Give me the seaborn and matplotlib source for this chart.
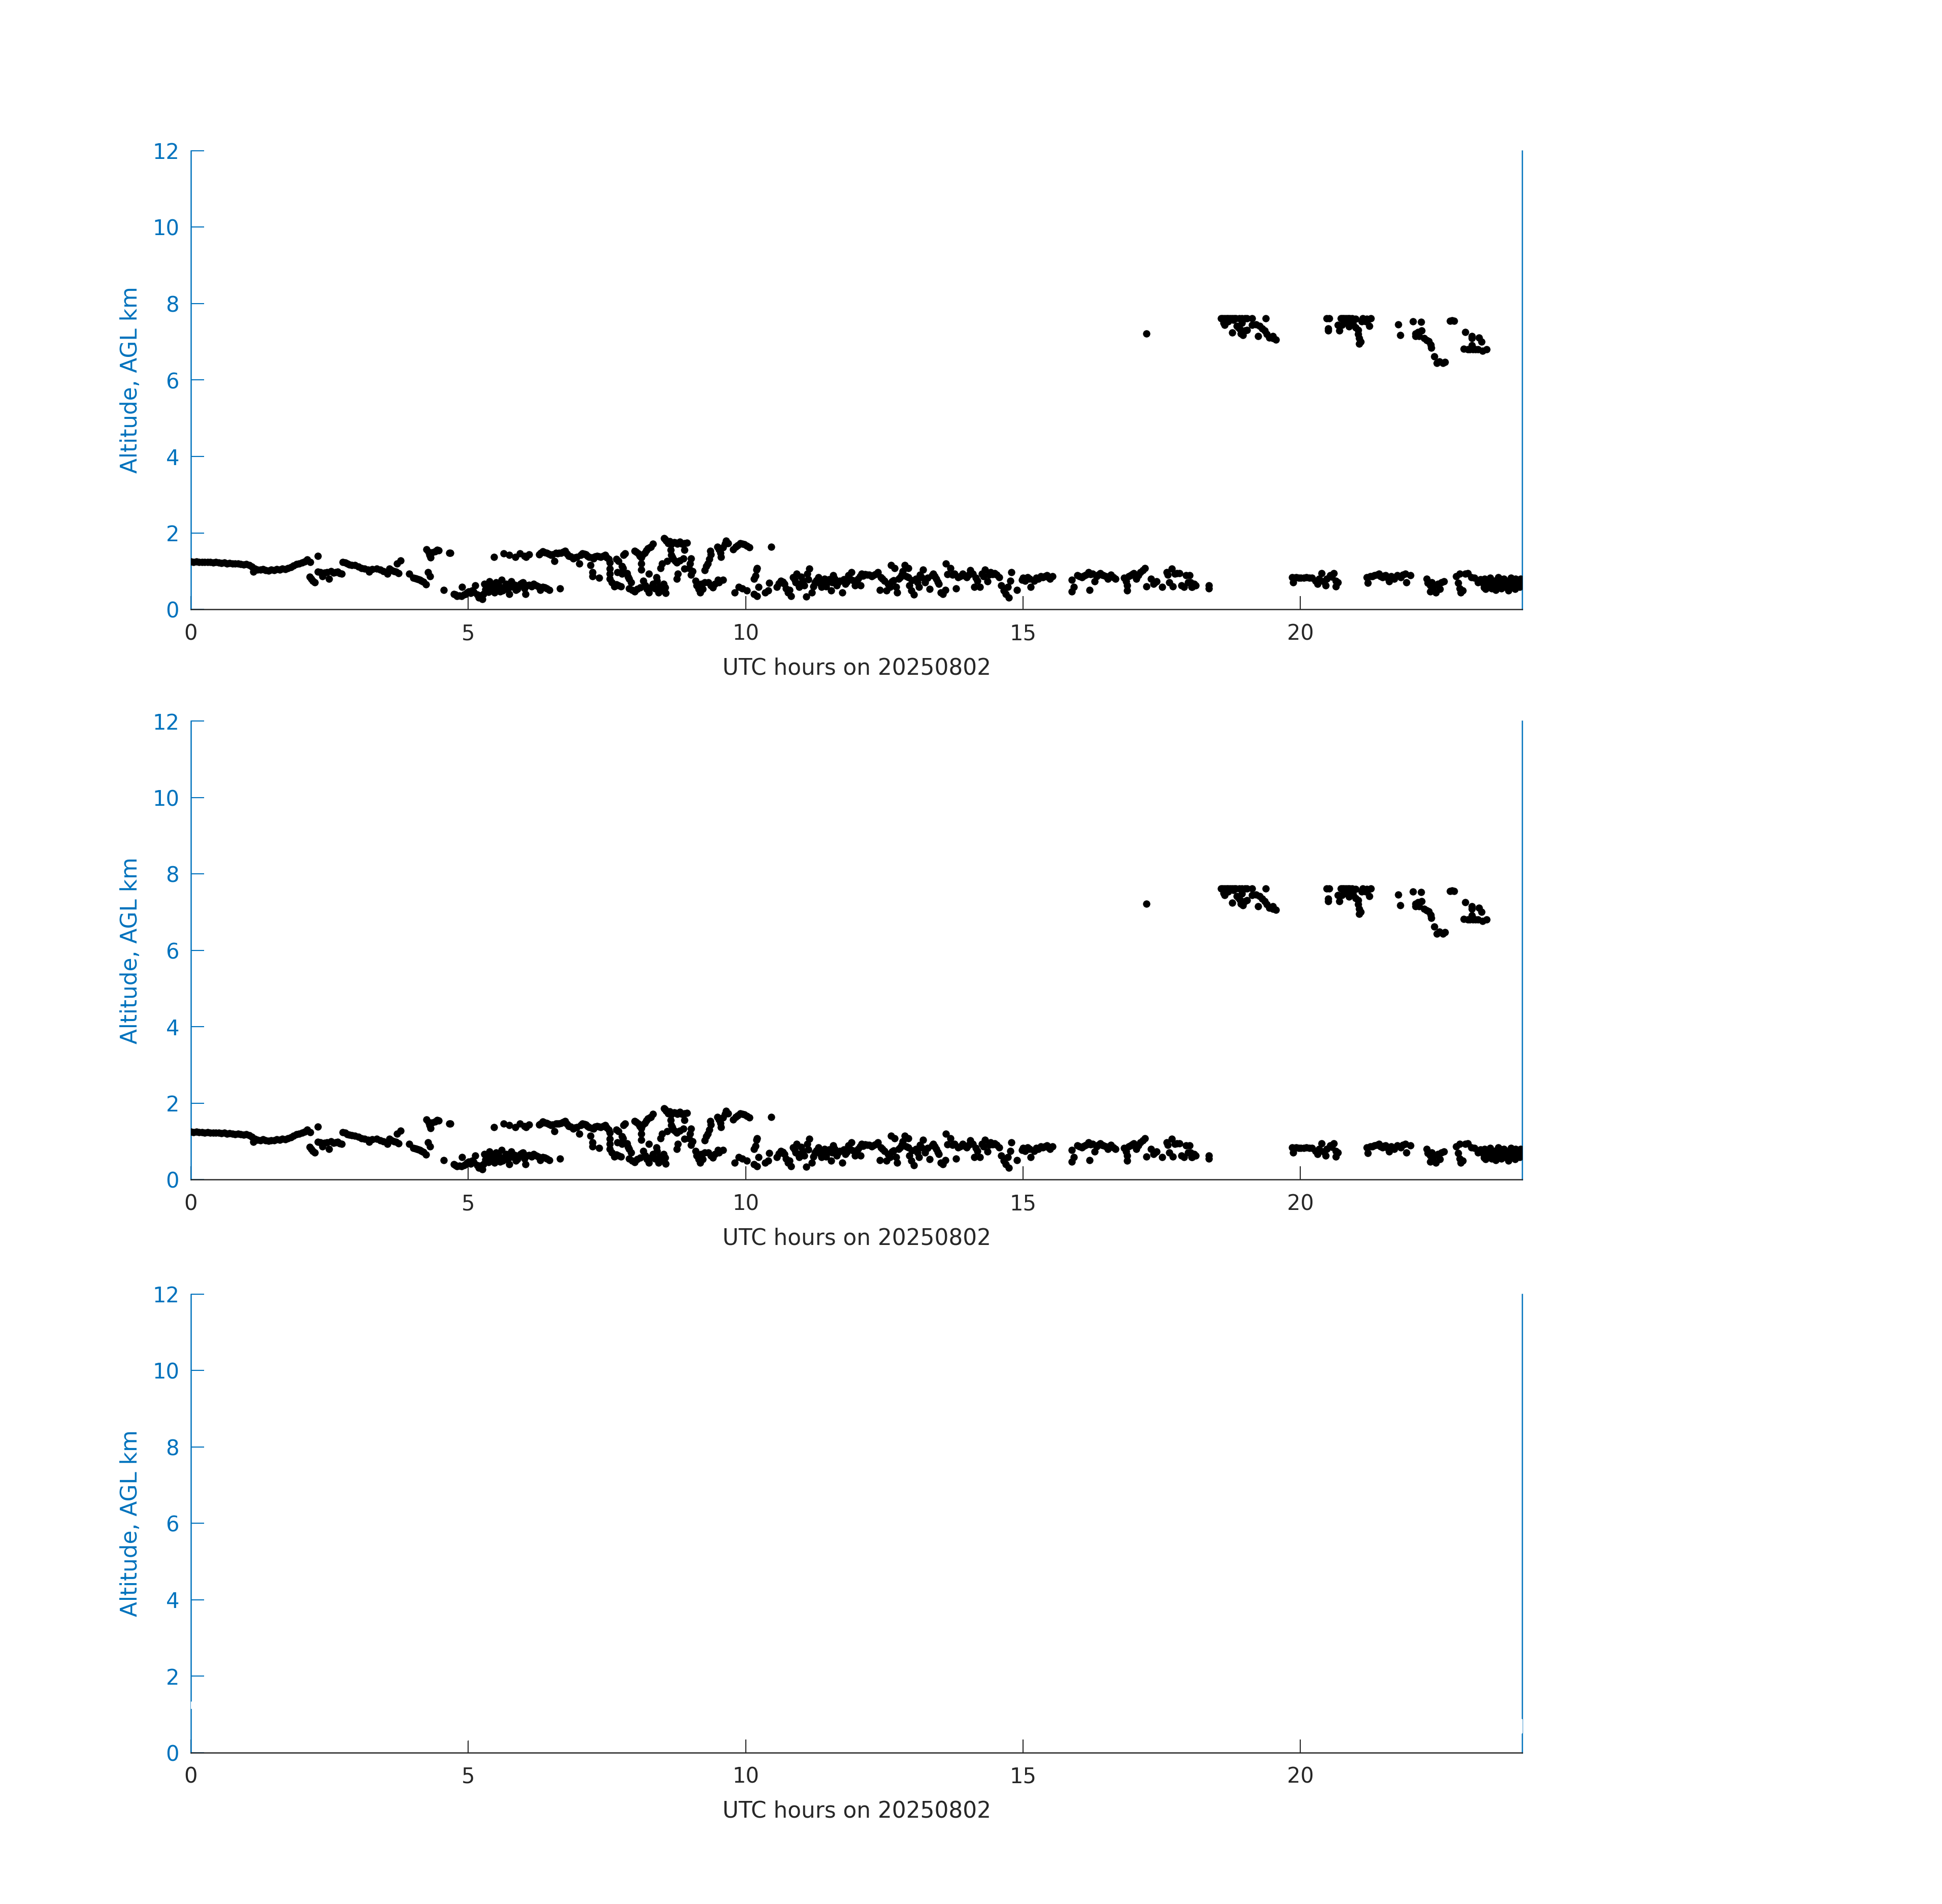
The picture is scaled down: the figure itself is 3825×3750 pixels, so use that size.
import matplotlib.pyplot as plt
import pandas as pd
import seaborn as sns

# Cloud-base heights (UTC hour, km AGL)
base_layer_early = [
    (0.00, 1.25), (0.05, 1.24), (0.10, 1.25), (0.15, 1.24), (0.20, 1.24), (0.25, 1.23),
    (0.30, 1.24), (0.35, 1.23), (0.40, 1.22), (0.45, 1.23), (0.50, 1.22), (0.55, 1.21),
    (0.60, 1.22), (0.65, 1.20), (0.70, 1.21), (0.75, 1.20), (0.80, 1.19), (0.85, 1.20),
    (0.90, 1.18), (0.95, 1.17), (1.00, 1.18), (1.05, 1.16), (1.10, 1.12), (1.13, 0.98),
    (1.15, 1.06), (1.20, 1.04), (1.25, 1.03), (1.30, 1.05), (1.35, 1.02), (1.40, 1.01),
    (1.45, 1.03), (1.50, 1.02), (1.55, 1.05), (1.60, 1.04), (1.65, 1.06), (1.70, 1.05),
    (1.75, 1.08), (1.80, 1.10), (1.85, 1.14), (1.90, 1.18), (1.95, 1.20), (2.00, 1.22),
    (2.05, 1.25), (2.10, 1.30), (2.15, 1.24), (2.29, 1.39),
]

layer_2h_to_5h = [
    (2.14, 0.85), (2.17, 0.80), (2.195, 0.75), (2.234, 0.71), (2.29, 0.99), (2.33, 0.97),
    (2.37, 0.86), (2.41, 0.96), (2.45, 0.97), (2.49, 0.80), (2.53, 1.00), (2.57, 0.96),
    (2.61, 0.97), (2.645, 0.98), (2.68, 0.95), (2.72, 0.93),
    (2.74, 1.24), (2.78, 1.22), (2.82, 1.19), (2.86, 1.17), (2.90, 1.16), (2.96, 1.15),
    (3.02, 1.12), (3.075, 1.08), (3.13, 1.06), (3.19, 1.04), (3.21, 0.99), (3.27, 1.05),
    (3.35, 1.06), (3.41, 1.03), (3.47, 1.00), (3.545, 0.93), (3.58, 1.06), (3.62, 1.02),
    (3.66, 1.00), (3.70, 0.98), (3.74, 0.95), (3.72, 1.20), (3.78, 1.28),
    (3.935, 0.93), (4.01, 0.82), (4.05, 0.81), (4.07, 0.80), (4.10, 0.79), (4.13, 0.77),
    (4.16, 0.75), (4.19, 0.72), (4.24, 0.65), (4.27, 0.97), (4.31, 0.86),
    (4.25, 1.57), (4.28, 1.50), (4.30, 1.42), (4.32, 1.35), (4.35, 1.49), (4.40, 1.52),
    (4.44, 1.55), (4.47, 1.54), (4.66, 1.47), (4.68, 1.47), (4.56, 0.51),
]

layer_5h_to_7h = [
    (4.74, 0.40), (4.77, 0.38), (4.80, 0.35), (4.84, 0.36), (4.875, 0.35), (4.89, 0.58),
    (4.92, 0.38), (4.95, 0.40), (4.98, 0.44), (5.01, 0.47), (5.04, 0.42), (5.07, 0.49),
    (5.10, 0.45), (5.13, 0.62), (5.16, 0.38), (5.19, 0.31), (5.22, 0.36), (5.25, 0.27),
    (5.27, 0.40), (5.29, 0.66), (5.31, 0.52), (5.34, 0.58), (5.36, 0.45), (5.38, 0.73),
    (5.40, 0.62), (5.42, 0.49), (5.45, 0.56), (5.47, 0.44), (5.50, 0.71), (5.52, 0.53),
    (5.55, 0.63), (5.57, 0.47), (5.60, 0.77), (5.62, 0.49), (5.65, 0.58), (5.68, 0.66),
    (5.71, 0.52), (5.74, 0.40), (5.76, 0.60), (5.78, 0.73), (5.81, 0.58), (5.84, 0.64),
    (5.86, 0.50), (5.89, 0.53), (5.92, 0.62), (5.94, 0.66), (5.97, 0.69), (5.99, 0.71),
    (6.01, 0.55), (6.03, 0.40), (6.06, 0.62), (6.10, 0.64), (6.14, 0.60), (6.18, 0.66),
    (6.22, 0.63), (6.26, 0.60), (6.30, 0.51), (6.34, 0.58), (6.38, 0.57), (6.42, 0.55),
    (6.46, 0.51), (6.65, 0.55),
    (5.46, 1.37), (5.64, 1.46), (5.74, 1.42), (5.85, 1.37), (5.93, 1.46), (6.01, 1.40),
    (6.04, 1.37), (6.10, 1.44),
]

layer_6h_to_10h = [
    (6.28, 1.44), (6.31, 1.47), (6.34, 1.51), (6.38, 1.49), (6.42, 1.48), (6.45, 1.45),
    (6.49, 1.42), (6.55, 1.26), (6.52, 1.44), (6.58, 1.47), (6.61, 1.46), (6.64, 1.47),
    (6.67, 1.48), (6.71, 1.50), (6.75, 1.53), (6.78, 1.45), (6.81, 1.40), (6.85, 1.38),
    (6.89, 1.33), (6.92, 1.36), (6.96, 1.37), (7.00, 1.20), (7.03, 1.42), (7.06, 1.46),
    (7.09, 1.45), (7.12, 1.44), (7.15, 1.40), (7.18, 1.37), (7.20, 1.15), (7.23, 1.35),
    (7.26, 1.33), (7.29, 1.38), (7.32, 1.40), (7.36, 1.38), (7.39, 1.37), (7.43, 1.40),
    (7.47, 1.42), (7.50, 1.36), (7.53, 1.31), (7.55, 1.22),
    (7.24, 0.97), (7.24, 0.86), (7.36, 0.82), (7.55, 1.06), (7.55, 0.93), (7.55, 0.80),
    (7.59, 0.71), (7.63, 0.60), (7.67, 0.65), (7.71, 0.62), (7.75, 0.60), (7.69, 0.97),
    (7.77, 0.93), (7.80, 0.97), (7.86, 0.95), (7.88, 0.85), (7.90, 0.80), (7.94, 0.71),
    (7.67, 1.31), (7.71, 1.26), (7.77, 1.13), (7.79, 1.08), (7.80, 1.42), (7.83, 1.46),
    (7.90, 0.55), (7.95, 0.50), (8.00, 0.46), (8.05, 0.53), (8.10, 0.57),
    (8.00, 1.53), (8.03, 1.50), (8.06, 1.46), (8.09, 1.40), (8.12, 1.35), (8.12, 1.20),
    (8.12, 1.04), (8.15, 1.44), (8.18, 1.48), (8.21, 1.54), (8.24, 1.59), (8.27, 1.62),
    (8.29, 1.64), (8.33, 1.71), (8.26, 0.93),
    (8.16, 0.75), (8.19, 0.62), (8.22, 0.53), (8.26, 0.44), (8.30, 0.58), (8.33, 0.66),
    (8.37, 0.55), (8.40, 0.75), (8.43, 0.44), (8.45, 0.60), (8.49, 0.49), (8.52, 0.66),
    (8.55, 0.57), (8.56, 0.42), (8.39, 0.84),
    (8.53, 1.86), (8.55, 1.83), (8.57, 1.80), (8.60, 1.73), (8.63, 1.78), (8.66, 1.70),
    (8.71, 1.75), (8.74, 1.74), (8.77, 1.72), (8.81, 1.77), (8.85, 1.72), (8.90, 1.73),
    (8.94, 1.74),
    (8.65, 1.55), (8.66, 1.42), (8.68, 1.37), (8.70, 1.31), (8.73, 1.26), (8.76, 1.22),
    (8.81, 1.28), (8.90, 1.55), (8.88, 1.33), (9.02, 1.33), (9.00, 1.20), (8.98, 1.08),
    (8.90, 1.06), (9.04, 1.00), (9.02, 0.91),
    (8.49, 1.20), (8.47, 1.08), (8.59, 1.26), (8.78, 0.93), (8.76, 0.80),
    (9.10, 0.75), (9.12, 0.62), (9.15, 0.53), (9.18, 0.44), (9.20, 0.66), (9.23, 0.53),
    (9.26, 0.71),
    (9.26, 1.02), (9.29, 1.13), (9.32, 1.20), (9.35, 1.31), (9.37, 1.44), (9.36, 1.53),
    (9.33, 0.71), (9.37, 0.62), (9.41, 0.57), (9.45, 0.66), (9.50, 0.77), (9.52, 0.71),
    (9.59, 0.77),
    (9.49, 1.64), (9.52, 1.57), (9.55, 1.48), (9.56, 1.37), (9.59, 1.62), (9.63, 1.71),
    (9.65, 1.80), (9.68, 1.73),
    (9.78, 1.57), (9.82, 1.64), (9.86, 1.68), (9.90, 1.73), (9.94, 1.71), (9.98, 1.70),
    (10.02, 1.66), (10.07, 1.62), (10.46, 1.64),
    (9.80, 0.44), (9.88, 0.58), (9.94, 0.55), (10.02, 0.49),
    (10.15, 0.80), (10.18, 0.88), (10.20, 1.04), (10.21, 1.08), (10.15, 0.40),
    (10.21, 0.35), (10.23, 0.58), (10.35, 0.44), (10.41, 0.49), (10.43, 0.69),
]

layer_10h_to_19h = [
    (10.56, 0.58), (10.64, 0.75), (10.70, 0.66), (10.76, 0.44), (10.82, 0.35), (10.86, 0.84),
    (10.90, 0.71), (10.92, 0.93), (10.97, 0.58), (11.03, 0.75), (11.09, 0.33), (11.11, 0.93),
    (11.15, 1.06), (11.19, 0.44), (11.25, 0.71), (11.31, 0.84), (11.37, 0.58), (11.42, 0.80),
    (11.48, 0.71), (11.54, 0.49), (11.58, 0.89), (11.64, 0.62), (11.70, 0.75), (11.74, 0.44),
    (11.80, 0.66), (11.85, 0.89), (11.91, 0.97), (11.97, 0.62), (12.03, 0.80), (12.09, 0.93),
    (10.60, 0.68), (10.67, 0.72), (10.73, 0.55), (10.79, 0.50), (10.88, 0.78), (10.95, 0.66),
    (11.00, 0.85), (11.06, 0.62), (11.13, 0.78), (11.22, 0.60), (11.28, 0.76), (11.34, 0.68),
    (11.40, 0.72), (11.45, 0.60), (11.51, 0.78), (11.56, 0.70), (11.61, 0.80), (11.67, 0.70),
    (11.77, 0.78), (11.83, 0.72), (11.88, 0.80), (11.94, 0.76), (12.00, 0.70), (12.06, 0.86),
    (12.07, 0.62), (12.23, 0.91), (12.30, 0.89), (12.38, 0.97), (12.42, 0.51), (12.44, 0.84),
    (12.50, 0.75), (12.54, 0.49), (12.60, 0.58), (12.62, 1.15), (12.64, 0.73), (12.69, 1.08),
    (12.71, 0.58), (12.73, 0.44), (12.79, 0.84), (12.83, 1.00), (12.87, 1.15), (12.93, 1.08),
    (12.93, 0.84), (12.95, 0.62), (12.99, 0.49), (13.03, 0.38), (13.07, 0.80), (13.13, 0.58),
    (13.17, 0.84), (13.20, 1.04), (13.24, 0.71), (13.32, 0.53), (13.36, 0.89), (13.38, 0.93),
    (13.44, 0.80), (13.48, 0.66), (13.52, 0.44), (13.56, 0.40), (13.60, 0.51), (13.61, 1.20),
    (13.69, 1.08), (13.77, 0.93), (13.79, 0.55), (13.83, 0.84), (13.91, 0.93), (13.99, 0.84),
    (14.05, 1.02), (14.10, 0.93), (14.12, 0.58), (14.18, 0.75), (14.22, 0.58), (14.26, 0.93),
    (14.32, 1.04), (14.36, 0.73), (14.42, 0.97), (14.49, 0.95), (14.57, 0.84), (14.61, 0.62),
    (14.65, 0.49), (14.69, 0.40), (14.73, 0.58), (14.75, 0.31), (14.79, 0.97), (14.77, 0.75),
    (14.89, 0.51), (14.98, 0.77), (15.04, 0.75), (15.08, 0.84), (15.14, 0.58), (15.20, 0.75),
    (15.28, 0.80), (15.36, 0.84), (15.43, 0.89), (15.49, 0.80), (15.53, 0.86),
    (12.12, 0.88), (12.16, 0.92), (12.19, 0.90), (12.27, 0.86), (12.34, 0.92), (12.47, 0.80),
    (12.57, 0.66), (12.67, 0.76), (12.76, 0.80), (12.81, 0.90), (12.90, 0.86), (13.00, 0.76),
    (13.10, 0.70), (13.14, 0.90), (13.28, 0.82), (13.41, 0.86), (13.46, 0.72), (13.64, 0.92),
    (13.73, 0.90), (13.87, 0.86), (13.95, 0.88), (14.02, 0.90), (14.15, 0.82), (14.29, 0.86),
    (14.39, 0.90), (14.45, 0.92), (14.53, 0.90), (15.00, 0.82), (15.12, 0.80), (15.24, 0.82),
    (15.32, 0.86), (15.40, 0.86), (15.46, 0.84),
    (15.88, 0.77), (15.88, 0.47), (15.92, 0.58), (15.98, 0.89), (16.02, 0.86), (16.06, 0.84),
    (16.10, 0.88), (16.14, 0.91), (16.18, 0.97), (16.20, 0.51), (16.22, 0.92), (16.26, 0.93),
    (16.29, 0.73), (16.33, 0.86), (16.36, 0.90), (16.39, 0.95), (16.42, 0.90), (16.45, 0.89),
    (16.49, 0.86), (16.53, 0.80), (16.56, 0.86), (16.59, 0.91), (16.63, 0.84), (16.67, 0.80),
    (16.82, 0.82), (16.86, 0.73), (16.88, 0.62), (16.88, 0.49), (16.91, 0.86), (16.94, 0.89),
    (16.97, 0.92), (17.00, 0.95), (17.04, 0.80), (17.08, 0.89), (17.12, 0.97), (17.16, 1.02),
    (17.20, 1.08), (17.23, 0.60), (17.31, 0.80), (17.35, 0.66), (17.38, 0.70), (17.41, 0.73),
    (17.51, 0.58), (17.59, 0.97), (17.61, 0.90), (17.64, 0.71), (17.68, 1.06), (17.70, 0.60),
    (17.74, 0.93), (17.78, 0.95), (17.82, 0.95), (17.86, 0.62), (17.90, 0.58), (17.94, 0.89),
    (17.98, 0.71), (18.00, 0.89), (18.02, 0.71), (18.04, 0.58), (18.05, 0.58), (18.09, 0.66),
    (18.11, 0.62), (18.35, 0.62), (18.35, 0.55),
]

layer_20h_to_24h = [
    (19.855, 0.84), (19.875, 0.71), (19.90, 0.82), (19.93, 0.84), (19.97, 0.83), (20.01, 0.82),
    (20.06, 0.83), (20.11, 0.84), (20.16, 0.82), (20.21, 0.82), (20.27, 0.75), (20.31, 0.66),
    (20.34, 0.80), (20.38, 0.95), (20.42, 0.73), (20.46, 0.62), (20.48, 0.80), (20.54, 0.89),
    (20.60, 0.95), (20.64, 0.75), (20.64, 0.60), (20.68, 0.71), (20.57, 0.85),
    (21.20, 0.84), (21.22, 0.69), (21.26, 0.86), (21.30, 0.87), (21.34, 0.89), (21.38, 0.90),
    (21.42, 0.93), (21.45, 0.86), (21.48, 0.84), (21.51, 0.88), (21.54, 0.89), (21.57, 0.82),
    (21.60, 0.73), (21.64, 0.86), (21.69, 0.80), (21.75, 0.89), (21.81, 0.84), (21.85, 0.90),
    (21.89, 0.93), (21.91, 0.71), (21.99, 0.89),
    (22.28, 0.80), (22.30, 0.69), (22.34, 0.62), (22.34, 0.47), (22.37, 0.70), (22.40, 0.58),
    (22.44, 0.44), (22.48, 0.66), (22.52, 0.53), (22.54, 0.71), (22.59, 0.73),
    (22.81, 0.86), (22.85, 0.69), (22.87, 0.93), (22.87, 0.55), (22.89, 0.44), (22.93, 0.49),
    (22.97, 0.93), (23.02, 0.95), (23.08, 0.84), (23.14, 0.82), (23.20, 0.71), (23.25, 0.78),
    (23.30, 0.66), (23.32, 0.80), (23.34, 0.53), (23.37, 0.71), (23.40, 0.60), (23.42, 0.82),
    (23.45, 0.55), (23.47, 0.69), (23.50, 0.75), (23.52, 0.51), (23.55, 0.62), (23.57, 0.84),
    (23.60, 0.71), (23.62, 0.55), (23.65, 0.66), (23.67, 0.80), (23.70, 0.58), (23.72, 0.73),
    (23.75, 0.49), (23.77, 0.64), (23.80, 0.82), (23.82, 0.60), (23.85, 0.71), (23.87, 0.53),
    (23.90, 0.77), (23.92, 0.66), (23.95, 0.58), (23.97, 0.80), (23.99, 0.62),
    (23.35, 0.62), (23.44, 0.75), (23.58, 0.60), (23.63, 0.78), (23.69, 0.68), (23.78, 0.75),
    (23.84, 0.64), (23.88, 0.80), (23.93, 0.72), (23.98, 0.70), (23.31, 0.57), (23.53, 0.68),
]

upper_layer = [
    (17.23, 7.22),
    (18.57, 7.62), (18.64, 7.62), (18.70, 7.62), (18.77, 7.62), (18.84, 7.62), (18.95, 7.62),
    (19.04, 7.62), (19.13, 7.62), (19.38, 7.62), (18.60, 7.62), (18.67, 7.61), (18.74, 7.62),
    (18.81, 7.61), (18.90, 7.62), (19.00, 7.61),
    (18.64, 7.44), (18.70, 7.53), (18.79, 7.57), (18.86, 7.42), (18.91, 7.33), (18.95, 7.49),
    (18.97, 7.18), (19.00, 7.29), (19.04, 7.31), (18.77, 7.24), (18.93, 7.22), (19.13, 7.44),
    (19.20, 7.46), (19.27, 7.42), (19.31, 7.35), (19.36, 7.29), (19.24, 7.15), (19.40, 7.20),
    (19.44, 7.11), (19.51, 7.09), (19.56, 7.06), (19.51, 7.15), (18.62, 7.50), (18.88, 7.38),
    (20.48, 7.62), (20.52, 7.62), (20.50, 7.35), (20.50, 7.29), (20.73, 7.62), (20.79, 7.62),
    (20.86, 7.62), (20.93, 7.62), (21.00, 7.60), (21.13, 7.62), (21.27, 7.62), (20.76, 7.61),
    (20.82, 7.62), (20.89, 7.61), (21.20, 7.60),
    (20.68, 7.44), (20.75, 7.44), (20.70, 7.29), (20.84, 7.49), (20.88, 7.40), (20.95, 7.46),
    (21.00, 7.37), (21.04, 7.31), (21.04, 7.20), (21.06, 7.09), (21.09, 7.00), (21.06, 6.95),
    (21.11, 7.53), (21.18, 7.53), (21.24, 7.42), (21.22, 7.57), (20.92, 7.50),
    (21.77, 7.46), (21.80, 7.18), (22.03, 7.53), (22.18, 7.52), (22.08, 7.22), (22.12, 7.26),
    (22.19, 7.29), (22.08, 7.15), (22.14, 7.15), (22.23, 7.09), (22.28, 7.04), (22.32, 7.02),
    (22.35, 6.93), (22.36, 6.84), (22.42, 6.62), (22.46, 6.44), (22.51, 6.49), (22.57, 6.44),
    (22.61, 6.47),
    (22.70, 7.55), (22.74, 7.56), (22.77, 7.55), (22.97, 7.26), (23.09, 7.15), (23.09, 7.09),
    (23.22, 7.11), (23.27, 7.00), (23.09, 6.91), (22.95, 6.82), (23.02, 6.80), (23.06, 6.80),
    (23.11, 6.80), (23.16, 6.80), (23.20, 6.80), (23.29, 6.76), (23.36, 6.80),
]

x_ticks = [0, 5, 10, 15, 20]
y_ticks = [0, 2, 4, 6, 8, 10, 12]
x_label = 'UTC hours on 20250802'
y_label = 'Altitude, AGL km'

BLUE = '#0072BD'
DARK = '#262626'

points = (base_layer_early + layer_2h_to_5h + layer_5h_to_7h + layer_6h_to_10h
          + layer_10h_to_19h + layer_20h_to_24h + upper_layer)
df = pd.DataFrame(points, columns=['hours', 'alt_km'])

sns.set_theme(style='white')
plt.rcParams['font.family'] = ['DejaVu Sans']

fig = plt.figure(figsize=(12.75, 12.5), dpi=300)
bottoms = [0.68, 0.3805, 0.0795]
# the bottom panel draws the same points in white, so they only show where they cross the axis lines
marker_colors = ['black', 'black', 'white']

for bottom, mcolor in zip(bottoms, marker_colors):
    ax = fig.add_axes([0.0983, bottom, 0.6855, 0.2408])
    sns.scatterplot(data=df, x='hours', y='alt_km', ax=ax, color=mcolor, s=12,
                    linewidth=0, zorder=3, legend=False)
    ax.set_xlim(0, 24)
    ax.set_ylim(0, 12)
    ax.set_xticks(x_ticks)
    ax.set_yticks(y_ticks)

    ax.spines['top'].set_visible(False)
    for side in ['left', 'right']:
        ax.spines[side].set_color(BLUE)
        ax.spines[side].set_linewidth(0.6)
    ax.spines['bottom'].set_color(DARK)
    ax.spines['bottom'].set_linewidth(0.6)

    ax.tick_params(axis='x', direction='in', length=6.3, width=0.5, colors=DARK,
                   labelsize=10, pad=6.5, top=False, bottom=True)
    ax.tick_params(axis='y', direction='in', length=6.3, width=0.5, colors=BLUE,
                   labelsize=10, pad=5.5, left=True, right=False)

    ax.set_xlabel(x_label, fontsize=10.5, color=DARK, labelpad=6)
    ax.set_ylabel(y_label, fontsize=10.5, color=BLUE, labelpad=5)

fig.savefig('out.png', dpi=300)
plt.close(fig)
